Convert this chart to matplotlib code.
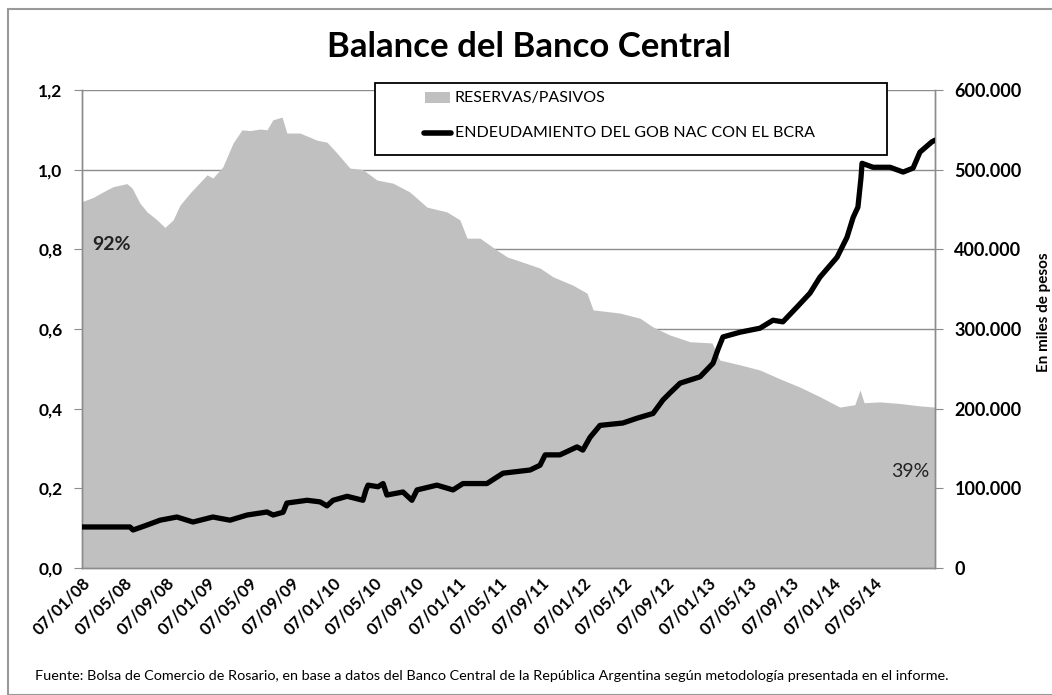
import matplotlib
matplotlib.use("Agg")
import matplotlib.pyplot as plt
import matplotlib.dates as mdates
import matplotlib.patches as mpatches
from matplotlib.ticker import FuncFormatter
import pandas as pd

plt.rcParams['font.family'] = ['Lato', 'DejaVu Sans']

# Reservas / Pasivos (ratio, left axis)
ratio_dates = [
    "2008-01-07", "2008-02-08", "2008-03-08", "2008-04-06", "2008-05-17", "2008-06-01",
    "2008-06-24", "2008-07-15", "2008-08-13", "2008-09-05", "2008-09-29", "2008-10-19",
    "2008-11-17", "2009-01-06", "2009-01-23", "2009-02-21", "2009-03-23", "2009-04-18",
    "2009-05-11", "2009-06-10", "2009-06-30", "2009-07-17", "2009-08-13", "2009-08-27",
    "2009-10-04", "2009-11-23", "2009-12-22", "2010-01-20", "2010-02-27", "2010-04-06",
    "2010-05-17", "2010-07-03", "2010-08-21", "2010-10-10", "2010-12-07", "2011-01-14",
    "2011-02-04", "2011-03-14", "2011-05-02", "2011-06-01", "2011-09-05", "2011-10-13",
    "2011-12-10", "2012-01-20", "2012-02-07", "2012-04-25", "2012-06-23", "2012-07-31",
    "2012-09-18", "2012-11-16", "2013-01-19", "2013-02-11", "2013-04-11", "2013-06-08",
    "2013-08-05", "2013-10-03", "2013-11-30", "2014-01-27", "2014-03-12", "2014-03-27",
    "2014-04-08", "2014-05-24", "2014-07-22", "2014-09-18", "2014-11-01",
]
ratio_values = [
    0.920, 0.930, 0.944, 0.957, 0.965, 0.954,
    0.916, 0.894, 0.874, 0.855, 0.874, 0.911,
    0.941, 0.987, 0.979, 1.007, 1.067, 1.100,
    1.098, 1.102, 1.100, 1.125, 1.132, 1.092,
    1.092, 1.074, 1.069, 1.042, 1.004, 1.000,
    0.974, 0.966, 0.944, 0.906, 0.894, 0.874,
    0.828, 0.828, 0.798, 0.781, 0.753, 0.731,
    0.710, 0.690, 0.648, 0.640, 0.627, 0.605,
    0.585, 0.568, 0.565, 0.522, 0.510, 0.497,
    0.475, 0.454, 0.430, 0.404, 0.410, 0.447,
    0.415, 0.417, 0.413, 0.407, 0.404,
]

# Endeudamiento del Gob. Nac. con el BCRA (miles de pesos, right axis)
debt_dates = [
    "2008-01-07", "2008-05-26", "2008-06-04", "2008-07-09", "2008-08-22", "2008-10-10",
    "2008-11-26", "2009-01-23", "2009-03-14", "2009-05-03", "2009-06-30", "2009-07-18",
    "2009-08-16", "2009-08-27", "2009-10-25", "2009-12-02", "2009-12-22", "2010-01-09",
    "2010-02-19", "2010-04-06", "2010-04-15", "2010-04-21", "2010-05-20", "2010-06-04",
    "2010-06-15", "2010-08-01", "2010-08-27", "2010-09-11", "2010-11-08", "2010-12-25",
    "2011-01-23", "2011-04-03", "2011-05-20", "2011-08-07", "2011-09-05", "2011-09-20",
    "2011-11-02", "2011-12-22", "2012-01-08", "2012-01-29", "2012-02-27", "2012-05-04",
    "2012-06-14", "2012-07-31", "2012-08-29", "2012-09-19", "2012-10-18", "2012-12-15",
    "2013-01-22", "2013-02-06", "2013-02-20", "2013-04-11", "2013-06-08", "2013-07-16",
    "2013-08-14", "2013-09-24", "2013-11-01", "2013-11-30", "2014-01-19", "2014-02-17",
    "2014-03-07", "2014-03-21", "2014-03-30", "2014-04-02", "2014-05-04", "2014-06-23",
    "2014-07-31", "2014-08-29", "2014-09-18", "2014-10-23", "2014-11-01",
]
debt_values = [
    51500, 51500, 47700, 53000, 60000, 64000,
    57700, 64000, 60000, 66500, 70300, 66500,
    70000, 81500, 85000, 83000, 78000, 85000,
    90000, 85000, 98000, 104000, 102000, 106000,
    91600, 95400, 85000, 98000, 104000, 98000,
    106000, 106000, 119000, 123000, 129000, 142000,
    142000, 152000, 148000, 164000, 179000, 182000,
    188000, 194000, 211000, 220000, 232000, 240000,
    257000, 275000, 290000, 296000, 301000, 311000,
    309000, 327500, 345000, 365000, 390000, 415000,
    440000, 453000, 490000, 508000, 503000, 503000,
    497000, 502000, 522000, 535000, 537000,
]

tick_dates = [
    "2008-01-07", "2008-05-07", "2008-09-07", "2009-01-07", "2009-05-07", "2009-09-07",
    "2010-01-07", "2010-05-07", "2010-09-07", "2011-01-07", "2011-05-07", "2011-09-07",
    "2012-01-07", "2012-05-07", "2012-09-07", "2013-01-07", "2013-05-07", "2013-09-07",
    "2014-01-07", "2014-05-07",
]
legend_labels = ["RESERVAS/PASIVOS", "ENDEUDAMIENTO DEL GOB NAC CON EL BCRA"]

r_dates = pd.to_datetime(ratio_dates)
d_dates = pd.to_datetime(debt_dates)

fig = plt.figure(figsize=(10.52, 6.95), dpi=100)
ax = fig.add_axes([82 / 1052, 1 - 568 / 695, (935 - 82) / 1052, (568 - 90) / 695])
ax2 = ax.twinx()

grid_c = "#8c8c8c"
area_c = "#c0c0c0"
ax.fill_between(r_dates, ratio_values, 0, color=area_c, lw=0, zorder=2)
ax.set_ylim(0, 1.2)
ax.set_yticks([0, 0.2, 0.4, 0.6, 0.8, 1.0, 1.2])
ax.yaxis.set_major_formatter(FuncFormatter(lambda v, p: f"{v:.1f}".replace(".", ",")))
ax.grid(axis="y", color=grid_c, lw=1.0, zorder=1)
ax.set_axisbelow(True)
ax.set_xlim(r_dates[0], pd.Timestamp("2014-11-01"))
ax.set_xticks(pd.to_datetime(tick_dates))
ax.xaxis.set_major_formatter(mdates.DateFormatter("%d/%m/%y"))
for lbl in ax.get_xticklabels():
    lbl.set_rotation(45)
    lbl.set_ha("right")
    lbl.set_rotation_mode("anchor")
ax.tick_params(axis="x", length=0, labelsize=12, pad=5)
ax.tick_params(axis="y", length=6, color=grid_c, labelsize=12.5, pad=8)
for lbl in ax.get_xticklabels() + ax.get_yticklabels():
    lbl.set_fontweight("bold")

ax2.plot(d_dates, debt_values, color="black", lw=3.8, solid_capstyle="round", zorder=5)
ax2.set_ylim(0, 600000)
ax2.set_yticks(range(0, 600001, 100000))
ax2.yaxis.set_major_formatter(FuncFormatter(lambda v, p: f"{int(v):,}".replace(",", ".")))
ax2.tick_params(axis="y", length=6, color=grid_c, labelsize=13, pad=8)
for lbl in ax2.get_yticklabels():
    lbl.set_fontweight("bold")

for a in (ax, ax2):
    a.spines["top"].set_visible(False)
    for s in ("left", "right", "bottom"):
        a.spines[s].set_color(grid_c)
        a.spines[s].set_linewidth(1.0)

ax.text(0.012, 0.665, "92%", transform=ax.transAxes, fontsize=14, fontweight="bold",
        color="#222222", zorder=6)
ax.text(0.993, 0.19, "39%", transform=ax.transAxes, fontsize=14, ha="right",
        color="#222222", zorder=6)

fig.text(0.503, 0.932, "Balance del Banco Central", ha="center", va="center",
         fontsize=25, fontweight="bold")
fig.text(1044 / 1052, 1 - 312 / 695, "En miles de pesos", rotation=90, ha="center",
         va="center", fontsize=11, fontweight="bold")
fig.text(0.033, 0.028, "Fuente: Bolsa de Comercio de Rosario, en base a datos del Banco Central "
         "de la República Argentina según metodología presentada en el informe.",
         fontsize=10.4, ha="left", va="center")

# legend box drawn in axes coordinates
lx0, lx1 = (375 - 82) / 853, (887 - 82) / 853
ly0, ly1 = (568 - 155) / 478, (568 - 83) / 478
ax2.add_patch(mpatches.Rectangle((lx0, ly0), lx1 - lx0, ly1 - ly0, transform=ax2.transAxes,
                                 facecolor="white", edgecolor="black", lw=1.3, zorder=9,
                                 clip_on=False))
ax2.add_patch(mpatches.Rectangle(((425 - 82) / 853, (568 - 103) / 478), 25 / 853, 11 / 478,
                                 transform=ax2.transAxes, facecolor=area_c, edgecolor="none",
                                 zorder=10, clip_on=False))
ax2.plot([(424 - 82) / 853, (451 - 82) / 853], [(568 - 133) / 478] * 2,
         transform=ax2.transAxes, color="black", lw=4, solid_capstyle="round",
         zorder=10, clip_on=False)
for lbl, yp in zip(legend_labels, (98, 133)):
    ax2.text((455 - 82) / 853, (568 - yp) / 478, lbl, transform=ax2.transAxes,
             fontsize=11.5, va="center", ha="left", zorder=11)

fig.patches.append(mpatches.Rectangle((8 / 1052, 0), 1.1, 1 - 9 / 695, transform=fig.transFigure,
                                      fill=False, edgecolor="#9a9a9a", lw=1.5))

fig.savefig("out.png", dpi=100)
